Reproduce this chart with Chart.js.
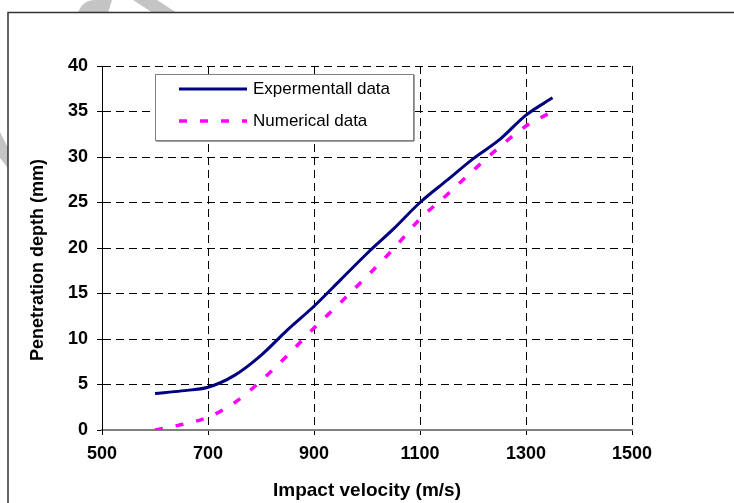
<!DOCTYPE html>
<html>
<head>
<meta charset="utf-8">
<script src="https://cdn.jsdelivr.net/npm/chart.js@4.4.1/dist/chart.umd.min.js"></script>
<style>
  html, body { margin: 0; padding: 0; background: #fff; }
  #chart { display: block; }
</style>
</head>
<body>
<canvas id="chart" width="734" height="503"></canvas>
<script>
// Penetration depth vs impact velocity: experimental and numerical curves

const velocities = [600, 650, 700, 750, 800, 850, 900, 950, 1000, 1050, 1100, 1150, 1200, 1250, 1300, 1350];
const experimentalDepth = [4.0, 4.3, 4.7, 6.0, 8.2, 11.0, 13.6, 16.5, 19.4, 22.1, 25.0, 27.4, 29.8, 31.9, 34.6, 36.5];
const numericalDepth = [0.0, 0.6, 1.4, 3.0, 5.4, 8.2, 11.2, 14.0, 16.9, 19.9, 23.2, 25.8, 28.5, 31.1, 33.4, 35.0];

const xTicks = [500, 700, 900, 1100, 1300, 1500];
const yTicks = [0, 5, 10, 15, 20, 25, 30, 35, 40];

const seriesLabels = ["Expermentall data", "Numerical data"];
const yTitle = "Penetration depth (mm)";

const FONT = "'Liberation Sans', Arial, sans-serif";

const toPoints = (ys) => velocities.map((x, i) => ({ x, y: ys[i] }));

// page frame + faint watermark behind everything
const framePlugin = {
  id: "frame",
  beforeDraw(chart) {
    const ctx = chart.ctx;
    ctx.save();
    ctx.fillStyle = "#fff";
    ctx.fillRect(0, 0, chart.width, chart.height);

    ctx.fillStyle = "#c4c4c4";
    ctx.beginPath();
    ctx.moveTo(78, 13);
    ctx.quadraticCurveTo(82, 0, 96, 0);
    ctx.lineTo(112, 0);
    ctx.lineTo(108, 13);
    ctx.closePath();
    ctx.fill();
    ctx.beginPath();
    ctx.moveTo(133, 0);
    ctx.lineTo(157, 0);
    ctx.lineTo(177, 13);
    ctx.lineTo(153, 13);
    ctx.closePath();
    ctx.fill();
    ctx.beginPath();
    ctx.moveTo(0, 132);
    ctx.lineTo(8, 148);
    ctx.lineTo(8, 168);
    ctx.lineTo(0, 158);
    ctx.closePath();
    ctx.fill();

    ctx.strokeStyle = "#333";
    ctx.lineWidth = 1.5;
    ctx.beginPath();
    ctx.moveTo(8, chart.height);
    ctx.lineTo(8, 12.5);
    ctx.lineTo(chart.width, 12.5);
    ctx.stroke();
    ctx.restore();
  },
};

// y title sits a bit below the plot centre in the original, so draw it by hand
const yTitlePlugin = {
  id: "yTitle",
  afterDraw(chart) {
    const ctx = chart.ctx;
    const { top, bottom } = chart.chartArea;
    ctx.save();
    ctx.translate(38, (top + bottom) / 2 + 12);
    ctx.rotate(-Math.PI / 2);
    ctx.font = `bold 18px ${FONT}`;
    ctx.fillStyle = "#000";
    ctx.textAlign = "center";
    ctx.textBaseline = "middle";
    ctx.fillText(yTitle, 0, 0);
    ctx.restore();
  },
};

// boxed legend inside the plot, Excel style
const boxLegendPlugin = {
  id: "boxLegend",
  afterDraw(chart) {
    const ctx = chart.ctx;
    const x0 = 155, y0 = 74, w = 258, h = 66;
    ctx.save();
    ctx.fillStyle = "#fff";
    ctx.fillRect(x0, y0, w, h);
    ctx.strokeStyle = "#444";
    ctx.lineWidth = 1;
    ctx.beginPath();
    ctx.moveTo(x0 + w + 1, y0 + 1);
    ctx.lineTo(x0 + w + 1, y0 + h + 1);
    ctx.lineTo(x0 + 1, y0 + h + 1);
    ctx.stroke();
    ctx.strokeStyle = "#808080";
    ctx.strokeRect(x0 + 0.5, y0 + 0.5, w, h);

    ctx.font = `17px ${FONT}`;
    ctx.textBaseline = "middle";
    ctx.fillStyle = "#000";
    chart.data.datasets.forEach((ds, i) => {
      const y = y0 + 15 + i * 32;
      ctx.strokeStyle = ds.borderColor;
      ctx.lineWidth = ds.borderWidth;
      ctx.setLineDash(ds.borderDash || []);
      ctx.beginPath();
      ctx.moveTo(x0 + 24, y);
      ctx.lineTo(x0 + 92, y);
      ctx.stroke();
      ctx.setLineDash([]);
      ctx.fillText(ds.label, x0 + 98, y);
    });
    ctx.restore();
  },
};

const tickFont = { family: FONT, size: 18, weight: "bold" };

new Chart(document.getElementById("chart"), {
  type: "line",
  data: {
    datasets: [
      {
        label: seriesLabels[0],
        data: toPoints(experimentalDepth),
        borderColor: "#000080",
        borderWidth: 3,
        pointRadius: 0,
        cubicInterpolationMode: "monotone",
        fill: false,
      },
      {
        label: seriesLabels[1],
        data: toPoints(numericalDepth),
        borderColor: "#ff00ff",
        borderWidth: 3.5,
        borderDash: [8, 13],
        pointRadius: 0,
        cubicInterpolationMode: "monotone",
        fill: false,
      },
    ],
  },
  options: {
    responsive: false,
    animation: false,
    devicePixelRatio: 1,
    layout: { padding: { left: 0, right: 102, top: 66, bottom: 0 } },
    plugins: {
      legend: { display: false },
      tooltip: { enabled: false },
    },
    scales: {
      x: {
        type: "linear",
        min: 500,
        max: 1500,
        afterBuildTicks: (scale) => {
          scale.ticks = xTicks.map((v) => ({ value: v }));
        },
        afterFit: (scale) => {
          scale.height = 73;
        },
        ticks: {
          color: "#000",
          font: tickFont,
          padding: 8,
          maxRotation: 0,
          autoSkip: false,
          callback: (v) => String(v),
        },
        grid: {
          color: "#000",
          lineWidth: 1,
          tickLength: 5,
          tickColor: "#000",
          tickBorderDash: [],
        },
        border: { display: true, color: "#808080", width: 2, dash: [8, 5] },
        title: {
          display: true,
          text: "Impact velocity (m/s)",
          color: "#000",
          font: { family: FONT, size: 19, weight: "bold", lineHeight: 1.2 },
          padding: { top: 0, bottom: 1 },
        },
      },
      y: {
        type: "linear",
        min: 0,
        max: 40,
        afterBuildTicks: (scale) => {
          scale.ticks = yTicks.map((v) => ({ value: v }));
        },
        afterFit: (scale) => {
          scale.width = 102;
        },
        ticks: {
          color: "#000",
          font: tickFont,
          padding: 9,
          autoSkip: false,
          callback: (v) => String(v),
        },
        grid: {
          color: "#000",
          lineWidth: 1,
          tickLength: 5,
          tickColor: "#000",
          tickBorderDash: [],
        },
        border: { display: true, color: "#000", width: 1, dash: [8, 5] },
        title: { display: false },
      },
    },
  },
  plugins: [framePlugin, yTitlePlugin, boxLegendPlugin],
});
</script>
</body>
</html>
